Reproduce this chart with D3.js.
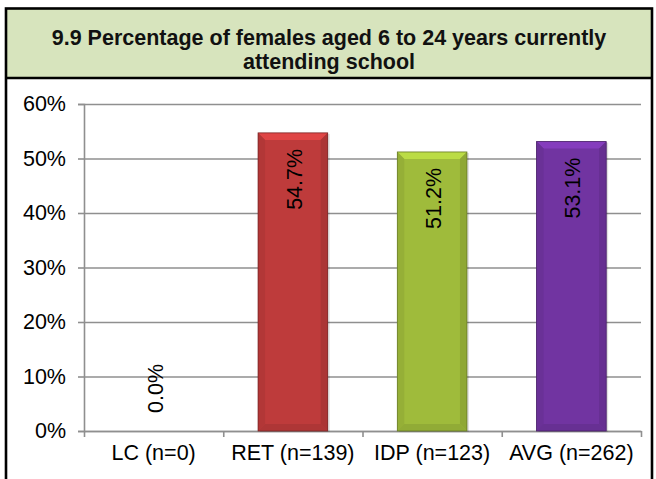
<!DOCTYPE html>
<html>
<head>
<meta charset="utf-8">
<script src="https://cdn.jsdelivr.net/npm/d3@7"></script>
<style>
  html, body { margin: 0; padding: 0; background: #fff; }
  svg { display: block; font-family: "Liberation Sans", Arial, sans-serif; }
</style>
</head>
<body>
<svg id="chart" width="656" height="479"></svg>
<script>
// Chart data
const categories = ["LC (n=0)", "RET (n=139)", "IDP (n=123)", "AVG (n=262)"];
const values = [0.0, 54.7, 51.2, 53.1];
const barColors = ["#4f81bd", "#be3b3b", "#9fbb3b", "#7134a1"];
const yTicks = [0, 10, 20, 30, 40, 50, 60];
const titleLines = ["9.9 Percentage of females aged 6 to 24 years currently", "attending school"];

const svg = d3.select("#chart");
const W = 656, H = 479;
const FONT = "Liberation Sans, Arial, sans-serif";
const LABEL_SIZE = 21.5;

// Frame and title band
const frame = { left: 6, right: 652, top: 8.5, titleBottom: 78 };
svg.append("rect")
  .attr("x", frame.left).attr("y", frame.top)
  .attr("width", frame.right - frame.left).attr("height", frame.titleBottom - frame.top)
  .attr("fill", "#d7e4bd");
svg.append("rect")
  .attr("x", frame.left).attr("y", frame.top)
  .attr("width", frame.right - frame.left).attr("height", H + 20)
  .attr("fill", "none").attr("stroke", "#000").attr("stroke-width", 2.6);
svg.append("line")
  .attr("x1", frame.left).attr("x2", frame.right)
  .attr("y1", frame.titleBottom).attr("y2", frame.titleBottom)
  .attr("stroke", "#000").attr("stroke-width", 2.6);

svg.append("g").selectAll("text").data(titleLines).join("text")
  .attr("x", (frame.left + frame.right) / 2)
  .attr("y", (d, i) => 44.5 + i * 24.5)
  .attr("text-anchor", "middle")
  .attr("font-weight", "bold")
  .attr("font-size", 21.5)
  .attr("fill", "#111")
  .text(d => d);

// Plot area
const plot = { left: 84, right: 641, top: 104, bottom: 431 };

const x = d3.scaleBand()
  .domain(categories)
  .range([plot.left, plot.right])
  .paddingInner(0.5)
  .paddingOuter(0.25);

const y = d3.scaleLinear()
  .domain([0, 60])
  .range([plot.bottom, plot.top]);

// Category boundaries for the x tick marks
const edges = d3.scaleLinear().domain([0, categories.length]).range([plot.left, plot.right]);

const GRID = "#8f8f8f";

// Gridlines
const grid = svg.append("g")
  .attr("transform", `translate(${plot.left},0)`)
  .call(d3.axisRight(y).tickValues(yTicks).tickSize(plot.right - plot.left).tickFormat(""));
grid.select(".domain").remove();
grid.selectAll("line").attr("stroke", GRID).attr("stroke-width", 1.6);

// Y axis
const yAxis = svg.append("g")
  .attr("transform", `translate(${plot.left},0)`)
  .call(d3.axisLeft(y).tickValues(yTicks).tickSize(6).tickPadding(12).tickFormat(d => d + "%"));
yAxis.select(".domain").attr("stroke", GRID).attr("stroke-width", 1.6);
yAxis.selectAll("line").attr("stroke", GRID).attr("stroke-width", 1.6);
yAxis.selectAll("text")
  .attr("font-size", LABEL_SIZE)
  .attr("font-family", FONT)
  .attr("fill", "#000");

// X axis: boundary ticks
const xTicks = svg.append("g")
  .attr("transform", `translate(0,${plot.bottom})`)
  .call(d3.axisBottom(edges).ticks(categories.length).tickSize(6).tickSizeOuter(0).tickFormat(""));
xTicks.select(".domain").attr("stroke", GRID).attr("stroke-width", 1.6);
xTicks.selectAll("line").attr("stroke", GRID).attr("stroke-width", 1.6);

// X axis: category labels
const xLabels = svg.append("g")
  .attr("transform", `translate(0,${plot.bottom})`)
  .call(d3.axisBottom(x).tickSize(0).tickPadding(14));
xLabels.select(".domain").remove();
xLabels.selectAll("text")
  .attr("font-size", LABEL_SIZE)
  .attr("font-family", FONT)
  .attr("fill", "#000");

// Bars with bevelled edges
const data = categories.map((c, i) => ({ cat: c, value: values[i], color: barColors[i] }));
const bars = svg.append("g");

data.forEach(d => {
  const x0 = x(d.cat), x1 = x0 + x.bandwidth();
  const y0 = y(d.value), y1 = y(0);
  const h = y1 - y0;
  if (h <= 0) return;
  const b = Math.min(7, h / 2);
  const base = d3.color(d.color);
  const g = bars.append("g");

  g.append("rect")
    .attr("x", x0 + 2).attr("y", y0 + 1)
    .attr("width", x1 - x0).attr("height", h)
    .attr("fill", "#000").attr("opacity", 0.12);

  g.append("rect")
    .attr("x", x0).attr("y", y0)
    .attr("width", x1 - x0).attr("height", h)
    .attr("fill", base.formatHex());

  const poly = (pts, fill) => g.append("polygon")
    .attr("points", pts.map(p => p.join(",")).join(" "))
    .attr("fill", fill);

  poly([[x0, y0], [x1, y0], [x1 - b, y0 + b], [x0 + b, y0 + b]], base.brighter(0.45).formatHex());
  poly([[x0, y0], [x0 + b, y0 + b], [x0 + b, y1 - b], [x0, y1]], base.darker(0.18).formatHex());
  poly([[x1, y0], [x1 - b, y0 + b], [x1 - b, y1 - b], [x1, y1]], base.darker(0.3).formatHex());
  poly([[x0, y1], [x0 + b, y1 - b], [x1 - b, y1 - b], [x1, y1]], base.darker(0.25).formatHex());

  g.append("rect")
    .attr("x", x0).attr("y", y0)
    .attr("width", x1 - x0).attr("height", h)
    .attr("fill", "none")
    .attr("stroke", base.darker(1.2).formatHex())
    .attr("stroke-width", 0.8);
});

// Value labels, rotated, inside the top of each bar (above the base when empty)
svg.append("g").selectAll("text").data(data).join("text")
  .attr("transform", d => {
    const cx = x(d.cat) + x.bandwidth() / 2;
    const py = d.value > 0 ? y(d.value) + 16 : y(0) - 18;
    return `translate(${cx},${py}) rotate(-90)`;
  })
  .attr("text-anchor", d => d.value > 0 ? "end" : "start")
  .attr("dy", "0.42em")
  .attr("font-size", LABEL_SIZE)
  .attr("font-family", FONT)
  .attr("fill", "#000")
  .text(d => d.value.toFixed(1) + "%");
</script>
</body>
</html>
